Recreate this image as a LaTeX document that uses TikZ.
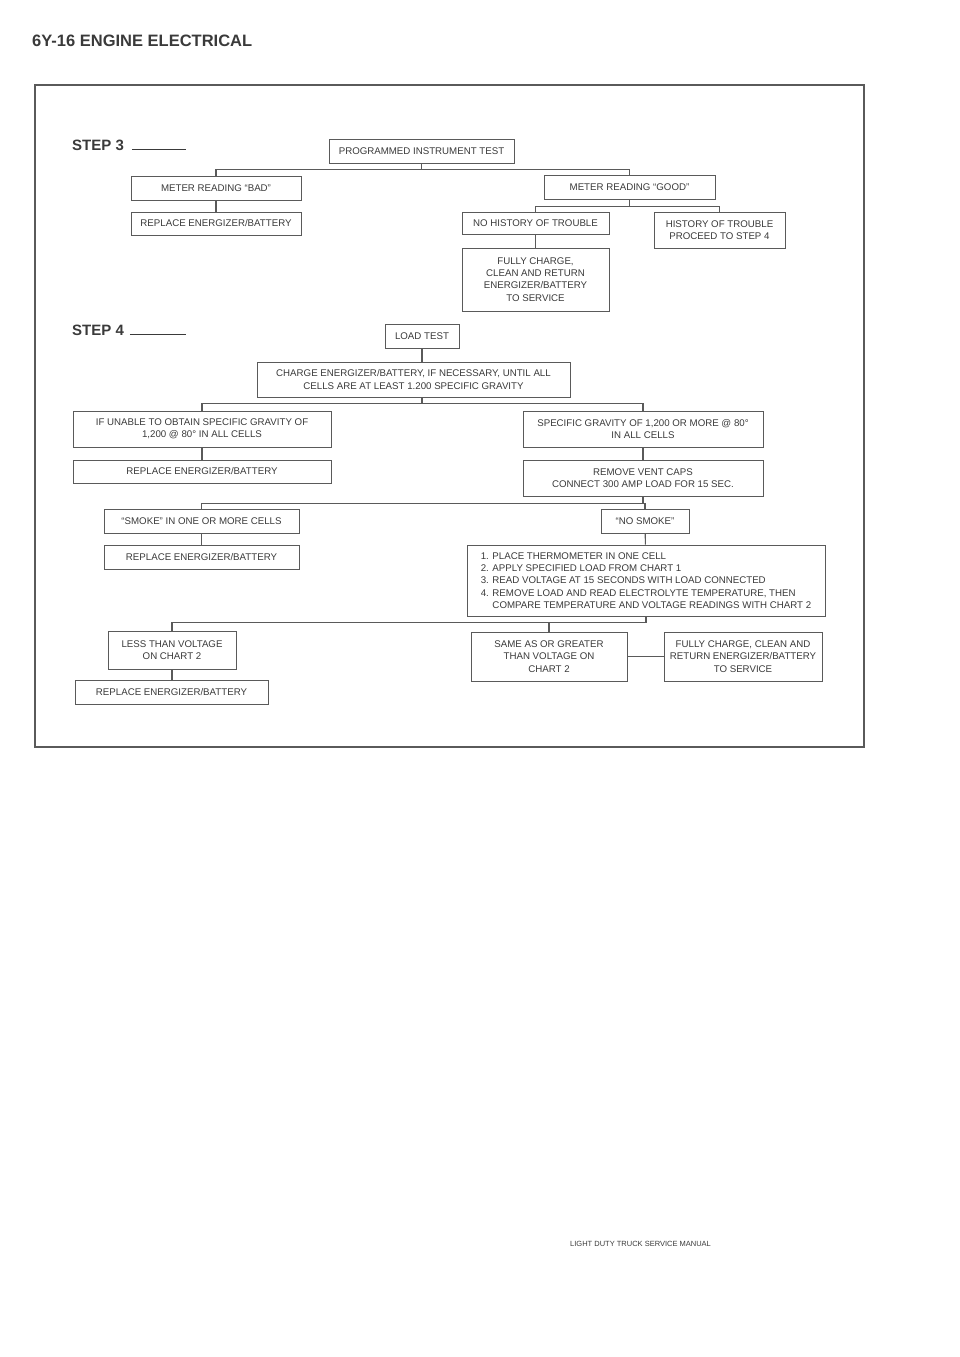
\documentclass[tikz,border=0pt]{standalone}
\usepackage{fontspec}
\setmainfont{Liberation Sans}
\usetikzlibrary{positioning, calc}
\definecolor{inkgray}{HTML}{3a3a3a}
\definecolor{linegray}{HTML}{5a5a5a}
\newcommand\chartfont{\fontsize{9.7}{12.2}\selectfont}

\begin{document}
\begin{tikzpicture}[x=1pt, y=-1pt,
    stepbox/.style={draw=linegray, line width=0.9pt, rectangle, inner sep=0pt, align=center, text=inkgray, font=\chartfont},
    link/.style={draw=linegray, line width=1.1pt},
    steplabel/.style={anchor=west, inner sep=0pt, text=inkgray, font=\fontsize{15}{18}\selectfont\bfseries}]
    \useasboundingbox (0,0) rectangle (960,1357);

    % page heading and footer
    \node[anchor=west, inner sep=0pt, text=inkgray, font=\fontsize{16.5}{20}\selectfont\bfseries] (title) at (32,41) {6Y-16 ENGINE ELECTRICAL};
    \node[anchor=west, inner sep=0pt, text=inkgray, font=\fontsize{7.5}{9}\selectfont] (footer) at (570,1244) {LIGHT DUTY TRUCK SERVICE MANUAL};
    \draw[linegray, line width=2pt] (35,85) rectangle (864,747);

    % step 3
    \node[steplabel] (step3) at (72,145) {STEP 3\hspace{8pt}\rule{54pt}{1.1pt}};
    \node[stepbox, minimum width=185, minimum height=24] (pit) at (421.5,151) {PROGRAMMED INSTRUMENT TEST};
    \node[stepbox, minimum width=170, minimum height=24] (bad) at (216,188) {METER READING ``BAD''};
    \node[stepbox, minimum width=170, minimum height=23] (repbad) at (216,223.5) {REPLACE ENERGIZER/BATTERY};
    \node[stepbox, minimum width=171, minimum height=24] (good) at (629.5,187) {METER READING ``GOOD''};
    \node[stepbox, minimum width=147, minimum height=22] (nohist) at (535.5,223) {NO HISTORY OF TROUBLE};
    \node[stepbox, minimum width=131, minimum height=36] (hist) at (719.5,230) {HISTORY OF TROUBLE\\PROCEED TO STEP 4};
    \node[stepbox, minimum width=147, minimum height=63] (charge1) at (535.5,279.5) {FULLY CHARGE,\\CLEAN AND RETURN\\ENERGIZER/BATTERY\\TO SERVICE};

    \draw[link] (pit.south) -- ++(0,6) -| (bad.north);
    \draw[link] (pit.south) ++(0,6) -| (good.north);
    \draw[link] (bad) -- (repbad);
    \draw[link] (good.south) -- ++(0,7) -| (nohist.north);
    \draw[link] (good.south) ++(0,7) -| (hist.north);
    \draw[link] (nohist) -- (charge1);

    % step 4
    \node[steplabel] (step4) at (72,330) {STEP 4\hspace{6pt}\rule{56pt}{1.1pt}};
    \node[stepbox, minimum width=74, minimum height=24] (load) at (422,336) {LOAD TEST};
    \node[stepbox, minimum width=313, minimum height=35] (charge) at (413.5,379.5) {CHARGE ENERGIZER/BATTERY, IF NECESSARY, UNTIL ALL\\CELLS ARE AT LEAST 1.200 SPECIFIC GRAVITY};
    \node[stepbox, minimum width=258, minimum height=36] (unable) at (202,429) {IF UNABLE TO OBTAIN SPECIFIC GRAVITY OF\\1,200 @ 80° IN ALL CELLS};
    \node[stepbox, minimum width=258, minimum height=23] (repunable) at (202,471.5) {REPLACE ENERGIZER/BATTERY};
    \node[stepbox, minimum width=240, minimum height=36] (gravity) at (643,429) {SPECIFIC GRAVITY OF 1,200 OR MORE @ 80°\\IN ALL CELLS};
    \node[stepbox, minimum width=240, minimum height=36] (vent) at (643,478) {REMOVE VENT CAPS\\CONNECT 300 AMP LOAD FOR 15 SEC.};
    \node[stepbox, minimum width=195, minimum height=24] (smoke) at (201.5,521) {``SMOKE'' IN ONE OR MORE CELLS};
    \node[stepbox, minimum width=195, minimum height=24] (repsmoke) at (201.5,557) {REPLACE ENERGIZER/BATTERY};
    \node[stepbox, minimum width=88, minimum height=24] (nosmoke) at (645,521) {``NO SMOKE''};
    \node[stepbox, minimum width=358, minimum height=71, align=left] (procedure) at (646,580.5) {1. PLACE THERMOMETER IN ONE CELL\\2. APPLY SPECIFIED LOAD FROM CHART 1\\3. READ VOLTAGE AT 15 SECONDS WITH LOAD CONNECTED\\4. REMOVE LOAD AND READ ELECTROLYTE TEMPERATURE, THEN\\\hphantom{4. }COMPARE TEMPERATURE AND VOLTAGE READINGS WITH CHART 2};
    \node[stepbox, minimum width=128, minimum height=38] (less) at (172,650) {LESS THAN VOLTAGE\\ON CHART 2};
    \node[stepbox, minimum width=193, minimum height=24] (repless) at (171.5,692) {REPLACE ENERGIZER/BATTERY};
    \node[stepbox, minimum width=156, minimum height=49] (same) at (549,656.5) {SAME AS OR GREATER\\THAN VOLTAGE ON\\CHART 2};
    \node[stepbox, minimum width=158, minimum height=49] (charge2) at (743,656.5) {FULLY CHARGE, CLEAN AND\\RETURN ENERGIZER/BATTERY\\TO SERVICE};

    \draw[link] (load) -- (load |- charge.north);
    \draw[link] (load |- charge.south) -- ++(0,6) -| (unable.north);
    \draw[link] (load |- charge.south) ++(0,6) -| (gravity.north);
    \draw[link] (unable) -- (repunable);
    \draw[link] (gravity) -- (vent);
    \draw[link] (vent.south) -- ++(0,7) -| (smoke.north);
    \draw[link] (vent.south) ++(0,7) -| (nosmoke.north);
    \draw[link] (smoke) -- (repsmoke);
    \draw[link] (nosmoke) -- (procedure);
    \draw[link] (procedure.south) -- ++(0,6) -| (less.north);
    \draw[link] (procedure.south) ++(0,6) -| (same.north);
    \draw[link] (less.south) -- (less.south |- repless.north);
    \draw[link] (same) -- (charge2);
\end{tikzpicture}
\end{document}
